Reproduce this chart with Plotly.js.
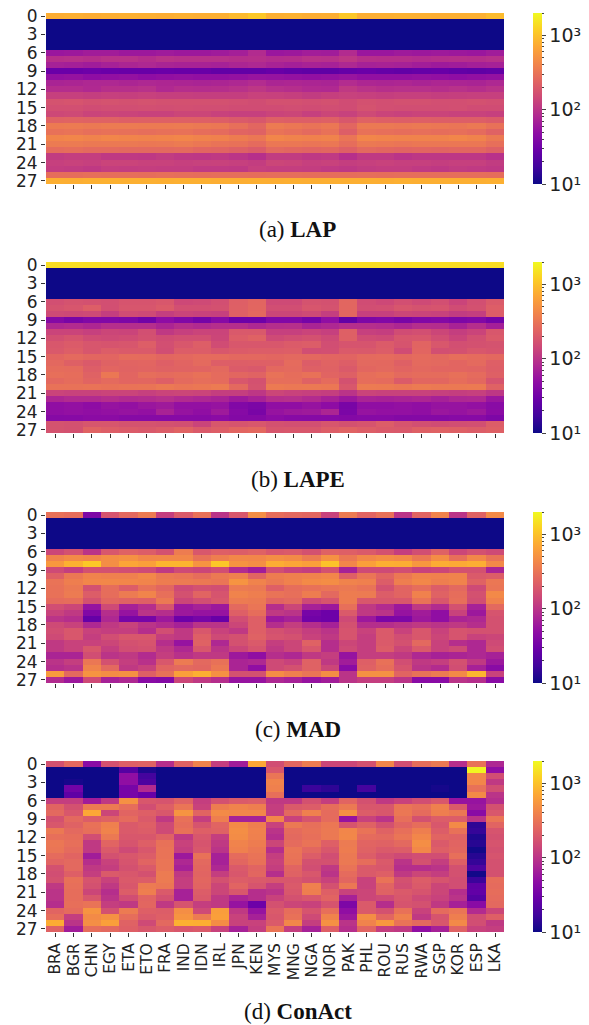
<!DOCTYPE html>
<html><head><meta charset="utf-8">
<script src="https://cdn.plot.ly/plotly-3.0.1.min.js"></script>
<style>html,body{margin:0;padding:0;background:#fff}</style></head>
<body><div id="chart" style="width:589px;height:1025px"></div>
<script>
const countries=["BRA","BGR","CHN","EGY","ETA","ETO","FRA","IND","IDN","IRL","JPN","KEN","MYS","MNG","NGA","NOR","PAK","PHL","ROU","RUS","RWA","SGP","KOR","ESP","LKA"];
const rowTicks=[0,3,6,9,12,15,18,21,24,27];
const captions=["(a) <b>LAP</b>","(b) <b>LAPE</b>","(c) <b>MAD</b>","(d) <b>ConAct</b>"];
const floorRow=[10,10,10,10,10,10,10,10,10,10,10,10,10,10,10,10,10,10,10,10,10,10,10,10,10];
const plasma=["#0d0887","#41049d","#6a00a8","#8f0da4","#b12a90","#cc4778","#e16462","#f1844b","#fca636","#fcce25","#f0f921"];
const lap=[
[760,780,750,770,790,780,760,790,770,780,900,1080,780,800,760,770,1080,770,780,800,790,770,780,790,920],
floorRow,floorRow,floorRow,floorRow,floorRow,
[58,60,65,65,60,60,63,60,60,63,68,85,58,60,66,64,85,58,58,62,60,62,60,58,64],
[92,94,90,96,96,88,98,94,94,94,90,92,86,88,96,94,105,92,90,90,86,90,92,90,94],
[70,68,64,70,76,80,74,72,72,70,76,80,72,68,72,70,80,70,72,70,66,62,64,68,70],
[29,29,30,29,28,28,29,28,28,26,26,26,28,26,25,25,27,29,27,26,27,28,26,25,26],
[52,54,49,51,53,49,51,53,51,51,53,56,55,53,51,53,56,51,51,51,53,51,49,51,53],
[74,76,80,80,76,80,78,76,74,76,80,86,76,78,76,74,86,78,76,78,74,78,76,74,80],
[88,88,82,92,92,96,82,90,88,90,96,106,94,90,84,82,110,98,92,94,94,90,96,90,98],
[125,125,120,125,123,127,123,123,120,120,120,130,127,123,115,123,128,125,120,125,125,120,123,125,125],
[175,180,170,175,170,175,170,170,170,170,165,158,170,170,165,170,155,170,165,170,170,165,165,170,165],
[165,165,155,160,160,165,160,165,160,160,155,155,155,160,155,160,155,175,165,160,160,160,165,155,155],
[145,150,135,140,135,130,130,140,140,130,125,125,135,140,125,140,128,150,135,130,135,135,130,130,125],
[230,235,230,230,220,225,225,225,220,215,200,190,225,215,215,225,190,230,220,215,220,215,215,215,205],
[345,350,340,350,350,345,345,350,340,330,290,250,350,330,310,330,250,340,340,330,340,330,320,340,300],
[300,310,290,300,295,285,295,300,280,270,240,230,310,290,265,300,215,300,290,280,290,280,290,270,230],
[410,420,400,420,410,400,410,420,400,390,360,330,420,400,390,400,320,420,410,400,400,400,420,400,340],
[350,350,340,340,340,330,335,350,330,310,300,270,330,330,320,330,280,340,330,320,330,330,330,330,290],
[270,280,265,265,260,260,260,265,245,240,225,205,260,250,240,250,220,260,250,240,245,240,250,250,225],
[115,120,120,110,110,108,115,108,105,110,102,92,115,115,108,112,92,110,110,100,105,105,105,105,95],
[125,130,125,135,135,130,130,125,128,130,125,118,140,135,125,130,120,125,130,125,125,120,125,125,115],
[118,115,110,120,118,120,118,118,112,112,110,125,120,120,118,112,108,115,118,118,112,108,115,112,108],
[280,280,290,285,285,280,290,285,280,285,285,280,285,285,280,280,280,285,280,285,285,285,285,285,280],
[780,770,790,800,790,790,780,790,790,770,770,780,770,780,770,780,780,780,770,790,780,780,780,780,790]
];
const lape=[
[1420,1430,1440,1430,1420,1430,1440,1420,1430,1420,1430,1420,1430,1440,1420,1430,1430,1420,1430,1420,1430,1430,1420,1430,1420],
floorRow,floorRow,floorRow,floorRow,floorRow,
[165,175,170,165,180,180,190,145,150,165,220,245,150,150,175,170,250,155,145,165,150,165,135,165,200],
[175,185,215,165,185,185,205,165,165,170,225,250,160,160,185,175,250,160,165,185,175,180,155,170,215],
[150,145,150,120,155,150,120,135,130,125,225,255,140,140,150,120,250,125,125,140,135,130,115,120,210],
[42,36,40,40,38,32,48,40,34,44,30,30,40,40,34,50,26,38,40,36,40,42,38,40,33],
[80,85,78,90,90,90,76,90,84,90,90,80,90,92,74,80,90,90,86,78,90,88,72,90,68],
[135,135,125,140,135,165,110,125,135,135,195,195,125,125,135,125,225,125,120,155,165,140,120,135,190],
[165,180,155,150,155,170,155,165,165,140,210,230,150,160,170,150,225,155,150,185,190,160,135,165,200],
[190,205,185,180,185,215,165,190,215,155,190,190,190,205,210,160,180,180,205,180,240,190,165,170,175],
[195,215,185,210,200,200,160,210,210,190,205,210,210,215,160,165,200,195,210,155,245,165,170,190,180],
[245,265,250,245,275,270,250,255,270,270,255,255,250,260,255,245,240,265,270,255,270,260,285,270,255],
[255,225,200,230,240,245,220,240,265,215,215,220,225,270,210,235,215,260,255,225,265,260,245,265,220],
[275,270,215,245,235,240,230,235,240,260,205,195,255,265,225,230,200,250,260,240,255,245,245,240,215],
[290,280,230,330,245,285,270,280,300,270,250,235,305,280,300,240,225,285,300,265,275,275,295,270,225],
[255,275,240,265,245,250,220,265,285,270,190,170,285,285,230,270,170,280,270,205,250,250,280,255,180],
[305,305,310,300,310,315,340,320,330,350,260,175,345,335,340,330,190,350,345,330,350,340,340,345,230],
[135,130,130,135,135,125,135,140,135,120,120,105,140,130,125,120,100,135,130,130,130,125,120,125,105],
[78,85,85,92,85,88,94,85,80,75,62,72,92,94,85,72,60,75,72,75,78,70,80,82,58],
[50,52,48,55,52,58,62,52,52,55,40,37,50,50,55,48,36,50,50,52,50,55,55,52,45],
[50,52,50,52,55,52,72,55,50,62,43,36,55,60,62,76,37,55,52,52,50,58,55,60,46],
[43,44,46,46,43,43,43,44,44,46,41,42,47,44,43,43,42,43,44,41,42,42,44,44,38],
[175,170,185,185,175,175,170,165,135,190,180,190,170,165,165,185,170,180,210,180,165,155,160,165,210],
[175,170,235,215,205,195,210,235,200,215,245,255,185,190,190,215,235,215,200,195,225,230,225,210,225]
];
const mad=[
[300,280,38,180,260,350,120,200,300,100,190,480,280,260,250,130,350,240,300,100,240,400,100,230,450],
floorRow,floorRow,floorRow,floorRow,floorRow,
[140,170,100,190,230,210,170,360,190,220,210,230,190,200,170,230,220,200,170,120,160,230,140,170,150],
[400,450,420,470,500,420,430,430,300,370,430,420,480,450,350,500,330,430,470,440,330,470,290,430,310],
[560,800,1100,480,680,620,850,850,520,1080,520,480,760,680,620,1000,420,620,780,760,550,760,720,770,440],
[150,120,170,170,160,150,110,150,140,160,85,65,160,130,120,170,70,150,150,160,130,140,170,170,75],
[220,330,400,380,380,430,340,320,280,340,380,240,360,380,400,420,220,320,240,330,400,390,400,200,210],
[310,370,420,430,420,410,360,350,340,320,520,400,340,390,450,470,400,380,210,370,430,370,400,230,330],
[300,340,170,280,210,300,250,150,170,160,350,340,220,280,300,320,340,310,170,240,280,210,260,150,320],
[300,350,210,280,350,410,290,170,240,180,400,370,310,290,360,260,360,350,210,240,390,230,280,170,440],
[270,280,170,250,230,220,340,140,160,190,350,340,240,260,150,180,360,190,190,190,310,190,290,160,390],
[160,140,55,150,70,90,180,60,70,60,260,320,90,140,70,60,290,110,85,60,110,85,170,70,260],
[130,110,40,90,55,100,90,60,55,55,220,280,110,100,35,30,200,110,100,55,65,50,130,60,180],
[100,90,27,80,35,35,60,30,35,28,160,220,60,70,32,30,150,60,37,38,60,50,75,80,170],
[150,130,80,110,130,100,85,70,100,100,140,220,90,120,90,70,170,90,90,100,110,100,110,90,170],
[160,190,130,120,120,90,160,110,190,130,110,220,170,150,120,100,180,130,200,130,190,130,180,170,170],
[150,190,120,160,190,190,120,110,220,150,170,230,180,170,130,110,180,120,200,160,190,140,180,130,140],
[110,130,130,140,170,180,90,55,230,80,170,200,120,140,230,90,140,120,200,170,260,130,90,80,150],
[110,130,190,120,160,170,110,80,190,100,140,180,110,140,190,90,150,120,210,140,200,130,150,80,160],
[75,75,160,100,110,85,120,95,110,110,60,50,90,80,110,120,55,120,120,110,80,70,75,80,70],
[100,120,330,170,120,95,190,350,260,300,75,80,150,130,230,110,65,220,300,160,110,120,170,110,60],
[90,100,400,260,110,130,240,260,250,330,75,50,150,170,230,140,45,230,280,180,100,85,160,70,45],
[580,260,520,470,500,220,300,620,780,500,170,170,470,380,320,480,100,500,500,240,300,350,450,850,130],
[85,60,150,70,80,45,42,140,110,90,55,55,80,70,55,65,100,120,120,100,45,45,100,90,45]
];
const conact=[
[170,260,45,170,220,230,90,230,400,120,65,700,160,250,360,140,140,170,420,160,280,340,90,300,80],
[10,10,10,10,22,12,10,10,10,10,10,10,190,10,10,10,10,10,10,10,10,10,10,1900,50],
[10,10,10,10,50,18,10,10,10,10,10,10,320,10,10,10,10,10,10,10,10,10,10,420,160],
[10,11,10,10,50,20,10,10,10,10,10,10,400,10,10,10,10,10,10,10,10,10,10,420,110],
[10,32,10,10,35,85,10,10,10,10,10,10,380,10,16,14,10,18,10,10,10,11,10,300,160],
[10,25,10,10,35,28,10,10,10,10,10,10,290,10,10,10,10,10,10,10,10,10,10,450,100],
[120,120,65,110,500,190,180,230,120,170,200,210,110,110,170,120,240,170,110,130,160,190,55,55,90],
[240,170,350,350,280,160,220,320,130,360,400,370,120,200,210,280,340,190,190,320,290,380,200,60,170],
[260,190,700,140,240,220,190,520,240,450,420,420,120,260,380,270,500,210,190,330,270,370,330,45,190],
[170,260,210,230,270,200,110,300,120,370,70,70,420,130,180,270,55,130,100,290,170,210,210,100,320],
[190,230,300,380,200,220,150,280,180,240,450,370,130,340,290,330,180,230,170,240,280,190,450,14,240],
[340,260,290,400,200,210,150,300,220,230,480,390,100,270,300,340,420,310,230,290,370,210,300,15,180],
[290,280,160,340,190,190,230,110,190,120,460,380,90,260,290,340,430,270,260,320,420,240,230,12,170],
[330,290,110,240,180,220,300,130,180,110,400,360,140,270,310,220,350,240,230,260,480,200,240,13,180],
[320,270,110,200,150,190,310,120,190,100,380,330,90,320,250,190,360,230,200,210,430,220,250,10.5,170],
[270,240,65,170,190,210,310,60,300,70,270,310,120,310,210,160,340,210,170,150,160,160,290,13,180],
[240,260,90,130,180,240,320,80,260,70,250,300,130,300,170,170,340,280,200,100,170,120,220,15,170],
[170,260,110,120,170,200,320,70,250,80,200,240,120,240,160,110,310,200,190,90,90,100,170,20,170],
[160,220,120,200,190,170,350,110,240,120,190,250,90,230,190,100,270,200,220,110,140,120,170,10.5,170],
[170,300,180,130,200,210,350,120,250,170,210,200,190,190,170,130,250,130,310,170,210,180,160,16,280],
[110,290,170,110,190,350,330,120,240,140,240,180,120,200,380,170,330,130,240,160,200,140,160,25,270],
[100,280,140,90,210,370,200,70,210,140,190,90,100,190,370,220,130,140,230,200,180,140,90,26,280],
[100,280,190,100,160,240,170,70,200,110,75,90,130,170,190,240,70,140,150,190,150,130,100,22,270],
[90,290,310,120,110,250,110,180,120,110,55,30,170,140,130,180,38,200,90,180,170,110,70,45,260],
[240,270,520,170,350,220,210,480,150,600,110,55,200,280,180,290,50,200,170,300,130,270,320,85,140],
[280,120,450,500,280,200,220,520,350,620,130,70,190,300,150,400,60,470,250,380,110,180,370,160,220],
[750,100,480,620,230,150,260,800,780,470,130,130,200,430,120,500,100,400,560,310,260,190,440,160,110],
[230,65,280,260,220,190,210,190,200,130,70,120,320,120,70,220,90,240,120,110,50,70,230,130,120]
];
const panels=[lap,lape,mad,conact];
const W=589,H=1025;
const tops=[13,262,512,761],ph=171,pl=46,pr=504.3;
const captionY=[229.5,479.5,729.5,1011.5];
const scale=plasma.map((c,i)=>[i/(plasma.length-1),c]);
const rowNames=lap.map((_,i)=>i);
const cbMajor=[10,100,1000];
const cbMajorText=["10\u00b9","10\u00b2","10\u00b3"];
const cbMinor=[20,30,40,50,60,70,80,90,200,300,400,500,600,700,800,900,2000];
const layout={width:W,height:H,margin:{l:0,r:0,t:0,b:0},paper_bgcolor:"#fff",plot_bgcolor:"#fff",showlegend:false,annotations:[]};
const traces=[];
panels.forEach((rows,p)=>{
  const s=p?String(p+1):"";
  const common={ticks:"outside",ticklen:4,tickwidth:1,tickcolor:"#333",showgrid:false,zeroline:false,showline:false,fixedrange:true};
  layout["xaxis"+s]=Object.assign({},common,{anchor:"y"+s,domain:[pl/W,pr/W],type:"category",tickmode:"array",tickvals:countries,
    ticktext:countries,showticklabels:p===3,tickangle:-90,tickfont:{family:"DejaVu Sans",size:15.5,color:"#222"},range:[-0.5,24.5]});
  layout["yaxis"+s]=Object.assign({},common,{anchor:"x"+s,domain:[1-(tops[p]+ph)/H,1-tops[p]/H],type:"linear",tickmode:"array",tickvals:rowTicks,
    ticktext:rowTicks.map(String),tickfont:{family:"DejaVu Sans",size:17,color:"#222"},range:[27.5,-0.5]});
  layout.annotations.push({xref:"paper",yref:"paper",x:297.5/W,y:1-captionY[p]/H,xanchor:"center",yanchor:"middle",showarrow:false,
    text:captions[p],font:{family:"Liberation Serif",size:23,color:"#111"}});
  const bar={x:533/W,xanchor:"left",xpad:0,ypad:0,y:1-tops[p]/H,yanchor:"top",len:ph/H,lenmode:"fraction",thickness:9,thicknessmode:"pixels",
      outlinewidth:0,ticks:"outside",tickwidth:1,tickcolor:"#444",tickmode:"array"};
  const base={type:"heatmap",x:countries,y:rowNames,z:rows.map(r=>r.map(Math.log10)),xaxis:"x"+s,yaxis:"y"+s,colorscale:scale,zmin:1,zmax:Math.log10(2000),hoverinfo:"skip"};
  traces.push(Object.assign({},base,{colorbar:Object.assign({},bar,{ticklen:2,showticklabels:false,tickvals:cbMinor.map(Math.log10)})}));
  traces.push(Object.assign({},base,{colorbar:Object.assign({},bar,{ticklen:4,tickvals:cbMajor.map(Math.log10),
      ticktext:cbMajorText,tickfont:{family:"DejaVu Sans",size:19,color:"#222"}})}));
});
Plotly.newPlot("chart",traces,layout,{displayModeBar:false,staticPlot:true});
</script></body></html>
